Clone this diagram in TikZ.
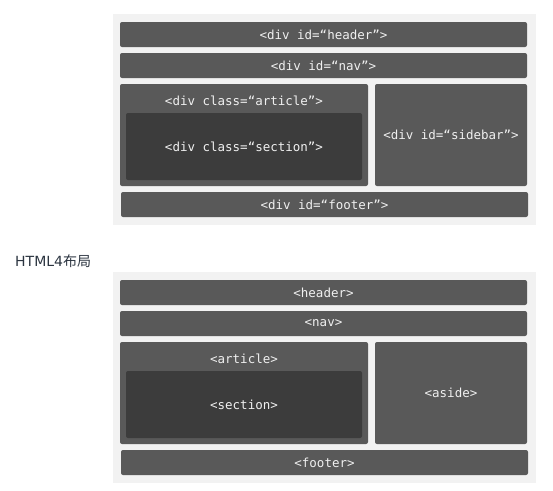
\documentclass[tikz,border=0pt]{standalone}
\usepackage{fontspec}
\setmainfont{DejaVu Sans}
\newfontfamily\boxfont{DejaVu Sans Mono}
\newfontfamily\cjk{Noto Sans CJK SC}
\definecolor{panelgray}{HTML}{F2F2F2}
\definecolor{boxgray}{HTML}{595959}
\definecolor{sectiongray}{HTML}{3C3C3C}
\definecolor{textgray}{HTML}{F0F0F0}
\definecolor{captiongray}{HTML}{2B3440}

\begin{document}
\begin{tikzpicture}
  [x=1pt, y=-1pt,
    panel/.style={fill=panelgray, inner sep=0pt,
      minimum width=423pt, minimum height=211pt},
    block/.style={fill=boxgray, rounded corners=2pt, inner sep=0pt},
    inner/.style={fill=sectiongray, rounded corners=2pt, inner sep=0pt},
    tag/.style={text=textgray, inner sep=0pt,
      font={\boxfont\fontsize{12.5}{14}\selectfont}}]
  \useasboundingbox (0,0) rectangle (553,490);
  \def \offset {258} % distance between the two layouts

  %% one pass per layout: div based, then html5 tags
  \foreach \oy/\p/\hd/\nv/\ar/\se/\sd/\ft in
    {0/div/{<div id=“header”>}/{<div id=“nav”>}/{<div class=“article”>}/{<div class=“section”>}/{<div id=“sidebar”>}/{<div id=“footer”>},
     \offset/tag/{<header>}/{<nav>}/{<article>}/{<section>}/{<aside>}/{<footer>}}
  {
    \node[panel] (panel\p) at (324.5,{119.5+\oy}) {};
    \node[block, tag, minimum width=407pt, minimum height=25pt]
      (header\p) at (323.5,{34.5+\oy}) {\hd};
    \node[block, tag, minimum width=407pt, minimum height=25pt]
      (nav\p) at (323.5,{65.5+\oy}) {\nv};
    \node[block, minimum width=248pt, minimum height=102pt]
      (article\p) at (244,{135+\oy}) {};
    \node[tag] (articletext\p) at (244,{101+\oy}) {\ar};
    \node[inner, tag, minimum width=236pt, minimum height=67pt]
      (section\p) at (244,{146.5+\oy}) {\se};
    \node[block, tag, minimum width=152pt, minimum height=102pt]
      (sidebar\p) at (451,{135+\oy}) {\sd};
    \node[block, tag, minimum width=407pt, minimum height=25pt]
      (footer\p) at (324.5,{204.5+\oy}) {\ft};
  }

  \node[anchor=west, inner sep=0pt, text=captiongray,
    font=\fontsize{14}{16}\selectfont] (caption) at (15,261) {HTML4{\cjk 布局}};
\end{tikzpicture}
\end{document}
